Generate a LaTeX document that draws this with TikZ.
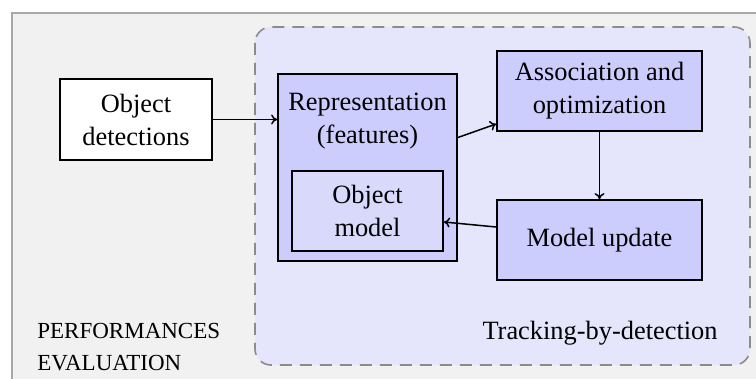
\documentclass[tikz,border=0pt]{standalone}
\usepackage{fontspec}
\setmainfont{Liberation Serif}
\usetikzlibrary{arrows.meta}
\begin{document}
\begin{tikzpicture}[x=0.5pt,y=-0.5pt,
  every node/.style={font=\fontsize{13.2}{16.5}\selectfont, align=center, inner sep=0pt},
  plainbox/.style={draw=black, line width=0.9pt, fill=white, rectangle},
  bluebox/.style={draw=black, line width=0.9pt, fill=boxblue, rectangle},
  flow/.style={-{To[length=3pt,width=5pt]}, line width=0.75pt}]
\definecolor{panelgray}{HTML}{F1F1F1}
\definecolor{panelline}{HTML}{A8A8A8}
\definecolor{regionblue}{HTML}{E5E5FB}
\definecolor{boxblue}{HTML}{CCCCFD}
\definecolor{innerblue}{HTML}{D9D9FC}
\definecolor{dashgray}{HTML}{8C8C8C}
\useasboundingbox (0,0) rectangle (756,379);
% outer panel (continues past the right and bottom edges)
\fill[panelgray] (12,13) rectangle (760,383);
\draw[panelline, line width=1.2pt] (12,383) -- (12,13) -- (760,13);
% tracking region
\draw[dashgray, fill=regionblue, dash pattern=on 6pt off 4pt, line width=0.8pt, rounded corners=8pt]
  (255,27) rectangle (750,365);
% boxes
\node[plainbox, minimum width=76pt, minimum height=40.5pt] (det) at (136,119.5) {Object\\detections};
\node[bluebox, minimum width=89.5pt, minimum height=93.5pt] (rep) at (367.5,167.5) {};
\node (reptext) at (367.5,121.5) {Representation\\(features)};
\node[draw=black, line width=0.9pt, fill=innerblue, minimum width=75.5pt, minimum height=40pt] (objm) at (367.5,211) {Object\\model};
\node[bluebox, minimum width=102.5pt, minimum height=40pt] (assoc) at (599.5,91) {Association and\\optimization};
\node[bluebox, minimum width=102.5pt, minimum height=40pt] (upd) at (599.5,240) {Model update};
% captions
\node[anchor=east] (track) at (718,333) {Tracking-by-detection};
\node[anchor=west, align=left, font=\fontsize{11.5}{16}\selectfont] (perf) at (37,347) {PERFORMANCES\\EVALUATION};
% connectors
\draw[flow] (det.east) -- (det.east -| rep.west);
\draw[flow] ([yshift=15pt]rep.east) -- ([yshift=-16.5pt]assoc.west);
\draw[flow] (assoc.south) -- (upd.north);
\draw[flow] ([yshift=6.5pt]upd.west) -- ([yshift=-5.5pt]objm.east);
\end{tikzpicture}
\end{document}
